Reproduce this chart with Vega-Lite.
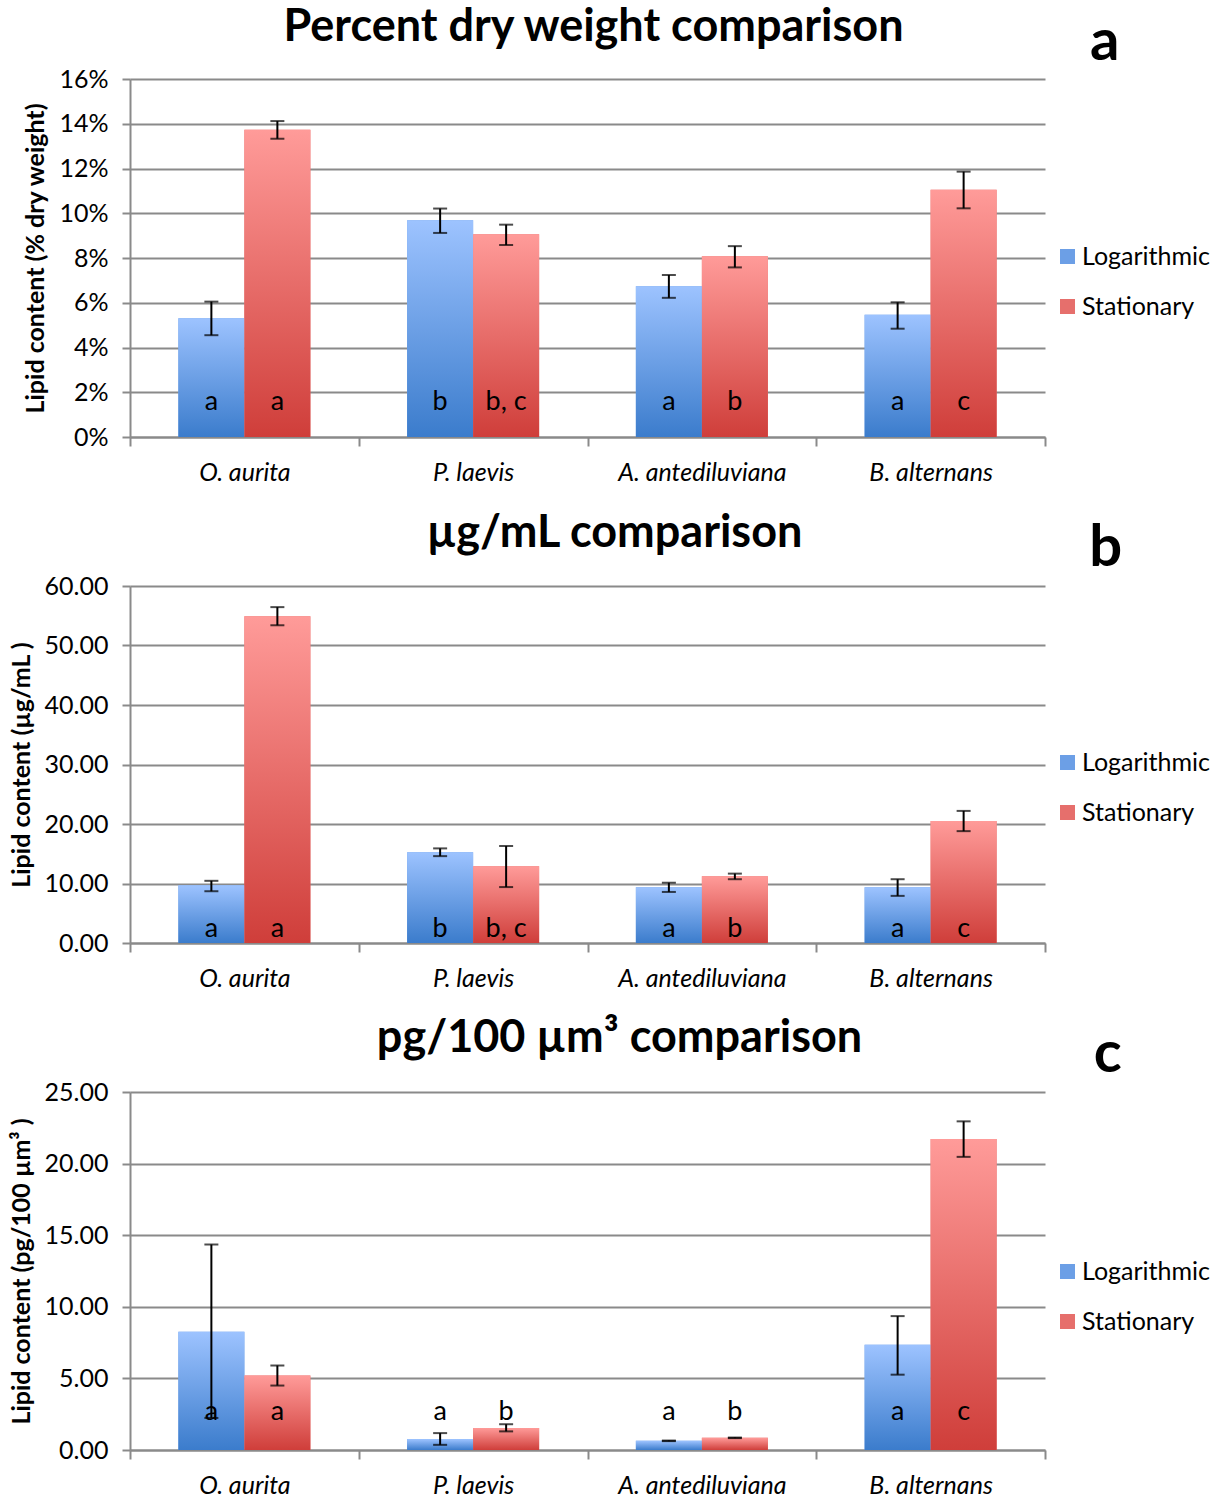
{
  "$schema": "https://vega.github.io/schema/vega-lite/v6.json",
  "autosize": {"type": "pad"},
  "padding": {"left": 9, "top": 5, "right": 0, "bottom": 0},
  "background": "white",
  "spacing": 149,
  "bounds": "flush",
  "datasets": {
    "a": [
      {"species": "O. aurita", "phase": "Logarithmic", "value": 5.31, "lo": 4.55, "hi": 6.05, "sig": "a"},
      {"species": "O. aurita", "phase": "Stationary", "value": 13.73, "lo": 13.33, "hi": 14.12, "sig": "a"},
      {"species": "P. laevis", "phase": "Logarithmic", "value": 9.69, "lo": 9.12, "hi": 10.21, "sig": "b"},
      {"species": "P. laevis", "phase": "Stationary", "value": 9.06, "lo": 8.58, "hi": 9.49, "sig": "b, c"},
      {"species": "A. antediluviana", "phase": "Logarithmic", "value": 6.74, "lo": 6.22, "hi": 7.24, "sig": "a"},
      {"species": "A. antediluviana", "phase": "Stationary", "value": 8.08, "lo": 7.58, "hi": 8.53, "sig": "b"},
      {"species": "B. alternans", "phase": "Logarithmic", "value": 5.46, "lo": 4.84, "hi": 6.02, "sig": "a"},
      {"species": "B. alternans", "phase": "Stationary", "value": 11.05, "lo": 10.22, "hi": 11.86, "sig": "c"}
    ],
    "b": [
      {"species": "O. aurita", "phase": "Logarithmic", "value": 9.7, "lo": 8.7, "hi": 10.45, "sig": "a"},
      {"species": "O. aurita", "phase": "Stationary", "value": 54.93, "lo": 53.4, "hi": 56.45, "sig": "a"},
      {"species": "P. laevis", "phase": "Logarithmic", "value": 15.27, "lo": 14.6, "hi": 15.9, "sig": "b"},
      {"species": "P. laevis", "phase": "Stationary", "value": 12.9, "lo": 9.4, "hi": 16.3, "sig": "b, c"},
      {"species": "A. antediluviana", "phase": "Logarithmic", "value": 9.35, "lo": 8.58, "hi": 10.13, "sig": "a"},
      {"species": "A. antediluviana", "phase": "Stationary", "value": 11.21, "lo": 10.72, "hi": 11.66, "sig": "b"},
      {"species": "B. alternans", "phase": "Logarithmic", "value": 9.35, "lo": 7.92, "hi": 10.72, "sig": "a"},
      {"species": "B. alternans", "phase": "Stationary", "value": 20.5, "lo": 18.8, "hi": 22.2, "sig": "c"}
    ],
    "c": [
      {"species": "O. aurita", "phase": "Logarithmic", "value": 8.25, "lo": 2.24, "hi": 14.35, "sig": "a"},
      {"species": "O. aurita", "phase": "Stationary", "value": 5.2, "lo": 4.5, "hi": 5.9, "sig": "a"},
      {"species": "P. laevis", "phase": "Logarithmic", "value": 0.76, "lo": 0.36, "hi": 1.18, "sig": "a"},
      {"species": "P. laevis", "phase": "Stationary", "value": 1.54, "lo": 1.3, "hi": 1.8, "sig": "b"},
      {"species": "A. antediluviana", "phase": "Logarithmic", "value": 0.64, "lo": 0.62, "hi": 0.66, "sig": "a"},
      {"species": "A. antediluviana", "phase": "Stationary", "value": 0.85, "lo": 0.83, "hi": 0.87, "sig": "b"},
      {"species": "B. alternans", "phase": "Logarithmic", "value": 7.35, "lo": 5.26, "hi": 9.35, "sig": "a"},
      {"species": "B. alternans", "phase": "Stationary", "value": 21.72, "lo": 20.47, "hi": 22.95, "sig": "c"}
    ]
  },
  "resolve": {"scale": {"color": "independent", "y": "independent", "x": "independent"}, "legend": {"color": "independent"}},
  "vconcat": [
    {
      "width": 915, "height": 358,
      "title": {"text": "Percent dry weight comparison", "dx": 6, "offset": -36},
      "data": {"name": "a"},
      "encoding": {
        "x": {"field": "species", "type": "nominal", "sort": ["O. aurita", "P. laevis", "A. antediluviana", "B. alternans"], "scale": {"paddingInner": 0, "paddingOuter": 0}, "axis": {"title": null}},
        "xOffset": {"field": "phase", "type": "nominal", "scale": {"paddingInner": 0, "paddingOuter": 0.733}}
      },
      "layer": [
        {
          "mark": {"type": "bar"},
          "encoding": {
            "y": {"field": "value", "type": "quantitative", "scale": {"domain": [0, 16], "nice": false}, "axis": {"title": "Lipid content (% dry weight)", "values": [0, 2, 4, 6, 8, 10, 12, 14, 16], "labelExpr": "datum.value + '%'"}},
            "color": {"field": "phase", "type": "nominal", "scale": {"domain": ["Logarithmic", "Stationary"], "range": ["#6c9fe6", "#e66f6c"]},
              "legend": {"title": null, "orient": "none", "legendX": 925, "legendY": 165,
                "encode": {"symbols": {"update": {"fill": {"signal": "datum.value === 'Logarithmic' ? {gradient: 'linear', x1: 0, y1: 0, x2: 0, y2: 1, stops: [{offset: 0, color: '#9dc3ff'}, {offset: 1, color: '#3b7ccc'}]} : {gradient: 'linear', x1: 0, y1: 0, x2: 0, y2: 1, stops: [{offset: 0, color: '#ff9b99'}, {offset: 1, color: '#cf3e3a'}]}"}}}}}}
          }
        },
        {
          "mark": {"type": "bar"},
          "encoding": {
            "y": {"field": "value", "type": "quantitative"},
            "color": {"condition": {"test": "datum.phase === 'Logarithmic'", "value": {"gradient": "linear", "x1": 0, "y1": 0, "x2": 0, "y2": 1, "stops": [{"offset": 0, "color": "#9dc3ff"}, {"offset": 1, "color": "#3b7ccc"}]}},
              "value": {"gradient": "linear", "x1": 0, "y1": 0, "x2": 0, "y2": 1, "stops": [{"offset": 0, "color": "#ff9b99"}, {"offset": 1, "color": "#cf3e3a"}]}}
          }
        },
        {"mark": {"type": "rule", "color": "black", "strokeWidth": 2}, "encoding": {"y": {"field": "lo", "type": "quantitative"}, "y2": {"field": "hi"}}},
        {"mark": {"type": "tick", "orient": "horizontal", "color": "black", "size": 14, "thickness": 2}, "encoding": {"y": {"field": "lo", "type": "quantitative"}}},
        {"mark": {"type": "tick", "orient": "horizontal", "color": "black", "size": 14, "thickness": 2}, "encoding": {"y": {"field": "hi", "type": "quantitative"}}},
        {"mark": {"type": "text", "font": "Lato", "fontSize": 27, "baseline": "alphabetic", "color": "black"}, "encoding": {"y": {"datum": 1.2}, "text": {"field": "sig"}}},
        {"data": {"values": [{"panel": "a"}]}, "mark": {"type": "text", "font": "Lato", "fontSize": 58, "fontWeight": "bold", "baseline": "alphabetic", "dx": 174, "dy": -19, "color": "black"},
          "encoding": {"x": {"datum": "B. alternans"}, "xOffset": null, "y": {"datum": 16}, "text": {"field": "panel"}}}
      ]
    },
    {
      "width": 915, "height": 357,
      "title": {"text": "µg/mL comparison", "dx": 27, "offset": -36},
      "data": {"name": "b"},
      "encoding": {
        "x": {"field": "species", "type": "nominal", "sort": ["O. aurita", "P. laevis", "A. antediluviana", "B. alternans"], "scale": {"paddingInner": 0, "paddingOuter": 0}, "axis": {"title": null}},
        "xOffset": {"field": "phase", "type": "nominal", "scale": {"paddingInner": 0, "paddingOuter": 0.733}}
      },
      "layer": [
        {
          "mark": {"type": "bar"},
          "encoding": {
            "y": {"field": "value", "type": "quantitative", "scale": {"domain": [0, 60], "nice": false}, "axis": {"title": "Lipid content (µg/mL )", "values": [0, 10, 20, 30, 40, 50, 60], "format": ".2f"}},
            "color": {"field": "phase", "type": "nominal", "scale": {"domain": ["Logarithmic", "Stationary"], "range": ["#6c9fe6", "#e66f6c"]},
              "legend": {"title": null, "orient": "none", "legendX": 925, "legendY": 164,
                "encode": {"symbols": {"update": {"fill": {"signal": "datum.value === 'Logarithmic' ? {gradient: 'linear', x1: 0, y1: 0, x2: 0, y2: 1, stops: [{offset: 0, color: '#9dc3ff'}, {offset: 1, color: '#3b7ccc'}]} : {gradient: 'linear', x1: 0, y1: 0, x2: 0, y2: 1, stops: [{offset: 0, color: '#ff9b99'}, {offset: 1, color: '#cf3e3a'}]}"}}}}}}
          }
        },
        {
          "mark": {"type": "bar"},
          "encoding": {
            "y": {"field": "value", "type": "quantitative"},
            "color": {"condition": {"test": "datum.phase === 'Logarithmic'", "value": {"gradient": "linear", "x1": 0, "y1": 0, "x2": 0, "y2": 1, "stops": [{"offset": 0, "color": "#9dc3ff"}, {"offset": 1, "color": "#3b7ccc"}]}},
              "value": {"gradient": "linear", "x1": 0, "y1": 0, "x2": 0, "y2": 1, "stops": [{"offset": 0, "color": "#ff9b99"}, {"offset": 1, "color": "#cf3e3a"}]}}
          }
        },
        {"mark": {"type": "rule", "color": "black", "strokeWidth": 2}, "encoding": {"y": {"field": "lo", "type": "quantitative"}, "y2": {"field": "hi"}}},
        {"mark": {"type": "tick", "orient": "horizontal", "color": "black", "size": 14, "thickness": 2}, "encoding": {"y": {"field": "lo", "type": "quantitative"}}},
        {"mark": {"type": "tick", "orient": "horizontal", "color": "black", "size": 14, "thickness": 2}, "encoding": {"y": {"field": "hi", "type": "quantitative"}}},
        {"mark": {"type": "text", "font": "Lato", "fontSize": 27, "baseline": "alphabetic", "color": "black"}, "encoding": {"y": {"datum": 0.95}, "text": {"field": "sig"}}},
        {"data": {"values": [{"panel": "b"}]}, "mark": {"type": "text", "font": "Lato", "fontSize": 58, "fontWeight": "bold", "baseline": "alphabetic", "dx": 175, "dy": -20, "color": "black"},
          "encoding": {"x": {"datum": "B. alternans"}, "xOffset": null, "y": {"datum": 60}, "text": {"field": "panel"}}}
      ]
    },
    {
      "width": 915, "height": 358,
      "title": {"text": "pg/100 µm³ comparison", "dx": 32, "offset": -35},
      "data": {"name": "c"},
      "encoding": {
        "x": {"field": "species", "type": "nominal", "sort": ["O. aurita", "P. laevis", "A. antediluviana", "B. alternans"], "scale": {"paddingInner": 0, "paddingOuter": 0}, "axis": {"title": null}},
        "xOffset": {"field": "phase", "type": "nominal", "scale": {"paddingInner": 0, "paddingOuter": 0.733}}
      },
      "layer": [
        {
          "mark": {"type": "bar"},
          "encoding": {
            "y": {"field": "value", "type": "quantitative", "scale": {"domain": [0, 25], "nice": false}, "axis": {"title": "Lipid content (pg/100 µm³ )", "values": [0, 5, 10, 15, 20, 25], "format": ".2f"}},
            "color": {"field": "phase", "type": "nominal", "scale": {"domain": ["Logarithmic", "Stationary"], "range": ["#6c9fe6", "#e66f6c"]},
              "legend": {"title": null, "orient": "none", "legendX": 925, "legendY": 167,
                "encode": {"symbols": {"update": {"fill": {"signal": "datum.value === 'Logarithmic' ? {gradient: 'linear', x1: 0, y1: 0, x2: 0, y2: 1, stops: [{offset: 0, color: '#9dc3ff'}, {offset: 1, color: '#3b7ccc'}]} : {gradient: 'linear', x1: 0, y1: 0, x2: 0, y2: 1, stops: [{offset: 0, color: '#ff9b99'}, {offset: 1, color: '#cf3e3a'}]}"}}}}}}
          }
        },
        {
          "mark": {"type": "bar"},
          "encoding": {
            "y": {"field": "value", "type": "quantitative"},
            "color": {"condition": {"test": "datum.phase === 'Logarithmic'", "value": {"gradient": "linear", "x1": 0, "y1": 0, "x2": 0, "y2": 1, "stops": [{"offset": 0, "color": "#9dc3ff"}, {"offset": 1, "color": "#3b7ccc"}]}},
              "value": {"gradient": "linear", "x1": 0, "y1": 0, "x2": 0, "y2": 1, "stops": [{"offset": 0, "color": "#ff9b99"}, {"offset": 1, "color": "#cf3e3a"}]}}
          }
        },
        {"mark": {"type": "rule", "color": "black", "strokeWidth": 2}, "encoding": {"y": {"field": "lo", "type": "quantitative"}, "y2": {"field": "hi"}}},
        {"mark": {"type": "tick", "orient": "horizontal", "color": "black", "size": 14, "thickness": 2}, "encoding": {"y": {"field": "lo", "type": "quantitative"}}},
        {"mark": {"type": "tick", "orient": "horizontal", "color": "black", "size": 14, "thickness": 2}, "encoding": {"y": {"field": "hi", "type": "quantitative"}}},
        {"mark": {"type": "text", "font": "Lato", "fontSize": 27, "baseline": "alphabetic", "color": "black"}, "encoding": {"y": {"datum": 2.12}, "text": {"field": "sig"}}},
        {"data": {"values": [{"panel": "c"}]}, "mark": {"type": "text", "font": "Lato", "fontSize": 58, "fontWeight": "bold", "baseline": "alphabetic", "dx": 177, "dy": -20, "color": "black"},
          "encoding": {"x": {"datum": "B. alternans"}, "xOffset": null, "y": {"datum": 25}, "text": {"field": "panel"}}}
      ]
    }
  ],
  "config": {
    "view": {"stroke": null},
    "font": "Lato",
    "title": {"font": "Lato", "fontSize": 45, "fontWeight": "bold", "color": "black", "anchor": "middle", "baseline": "alphabetic"},
    "axisX": {"labelFont": "Lato", "labelFontStyle": "italic", "labelFontSize": 25, "labelColor": "black", "labelAngle": 0, "labelPadding": 14, "tickBand": "extent", "tickSize": 9, "tickColor": "#8a8a8a", "tickWidth": 2, "domainColor": "#8a8a8a", "domainWidth": 2, "grid": false},
    "axisY": {"labelFont": "Lato", "labelFontSize": 25, "labelColor": "black", "labelPadding": 14, "tickSize": 8, "tickColor": "#8a8a8a", "tickWidth": 2, "domainColor": "#8a8a8a", "domainWidth": 2, "grid": true, "gridColor": "#8a8a8a", "gridWidth": 2, "titleFont": "Lato", "titleFontSize": 25, "titleFontWeight": "bold", "titleColor": "black", "titlePadding": 10},
    "legend": {"labelFont": "Lato", "labelFontSize": 25, "labelColor": "black", "symbolType": "square", "symbolSize": 225, "symbolStrokeWidth": 0, "rowPadding": 24, "labelOffset": 2, "padding": 0}
  }
}
